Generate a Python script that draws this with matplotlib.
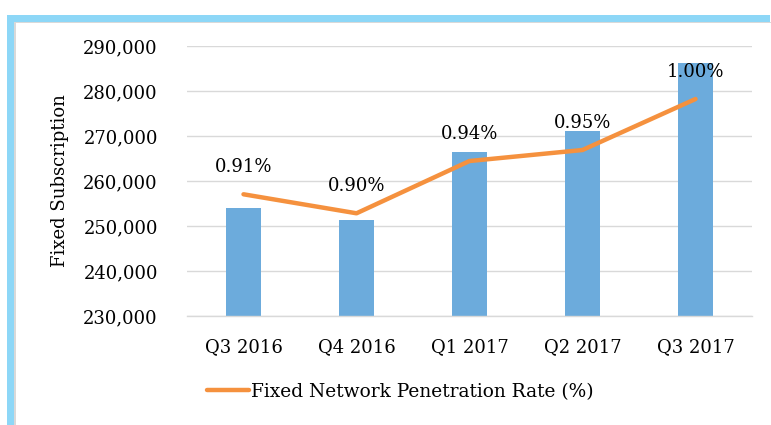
import matplotlib
matplotlib.use("Agg")
import matplotlib.pyplot as plt
from matplotlib.patches import Rectangle
from matplotlib.ticker import FuncFormatter

categories = ["Q3 2016", "Q4 2016", "Q1 2017", "Q2 2017", "Q3 2017"]
subscriptions = [253900, 251300, 266500, 271200, 286300]
penetration = [0.9127, 0.8951, 0.9435, 0.9537, 1.0009]
legend_label = "Fixed Network Penetration Rate (%)"

plt.rcParams['font.family'] = ['DejaVu Serif']

W, H = 771, 425
fig = plt.figure(figsize=(W / 100, H / 100), dpi=100)

# light blue frame (top and left)
border_col = "#8DD7F7"
fig.patches.append(Rectangle((7 / W, 0), (770 - 7) / W, 1 - 15 / H, transform=fig.transFigure,
                             facecolor=border_col, edgecolor="none", zorder=-3))
fig.patches.append(Rectangle((14 / W, 0), 1, 1 - 22 / H, transform=fig.transFigure,
                             facecolor="#D9D9D9", edgecolor="none", zorder=-2))
fig.patches.append(Rectangle((16 / W, 0), 1, 1 - 23 / H, transform=fig.transFigure,
                             facecolor="white", edgecolor="none", zorder=-1))

ax = fig.add_axes([187 / W, 1 - 316 / H, (752 - 187) / W, (316 - 46) / H])
ax.set_facecolor("none")
x = list(range(len(categories)))
ax.bar(x, subscriptions, width=0.316, color="#6CABDC", zorder=2)
ax.set_ylim(230000, 290000)
ax.set_xlim(-0.5, len(categories) - 0.5)
ax.set_yticks(range(230000, 290001, 10000))
ax.yaxis.set_major_formatter(FuncFormatter(lambda v, p: f"{int(v):,}"))
ax.set_xticks(x)
ax.set_xticklabels(categories)
ax.grid(axis="y", color="#D9D9D9", linewidth=1, zorder=0)
ax.set_axisbelow(True)
for s in ["top", "right", "left"]:
    ax.spines[s].set_visible(False)
ax.spines["bottom"].set_color("#D9D9D9")
ax.spines["bottom"].set_linewidth(1)
ax.tick_params(axis="both", length=0, labelsize=13, colors="black")
ax.tick_params(axis="y", pad=21)
ax.tick_params(axis="x", pad=16)
ax.set_ylabel("Fixed Subscription", fontsize=13, labelpad=10)

ax2 = ax.twinx()
ax2.set_ylim(0.80, 1.05)
ax2.axis("off")
line, = ax2.plot(x, penetration, color="#F5913E", linewidth=3.2, solid_capstyle="round",
                 solid_joinstyle="round", zorder=3, label=legend_label)
for xi, v in zip(x, penetration):
    ax2.annotate(f"{v:.2f}%", (xi, v), xytext=(0, 19.5), textcoords="offset points",
                 ha="center", va="center", fontsize=13)

fig.legend(handles=[line], labels=[legend_label], loc="center",
           bbox_to_anchor=(400 / W, 1 - 392 / H), frameon=False, fontsize=13.4,
           handlelength=2.25, handletextpad=0.1)

fig.savefig("out.png", dpi=100)
